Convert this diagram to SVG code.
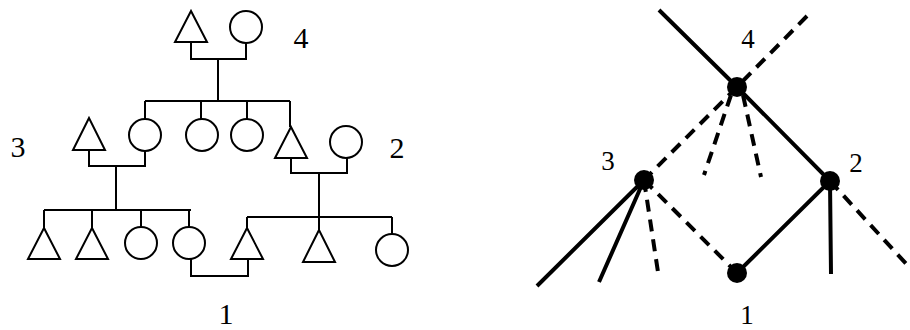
<svg xmlns="http://www.w3.org/2000/svg" width="910" height="330" viewBox="0 0 910 330">
<style>
.p{fill:#fff;stroke:#000;stroke-width:2}
.l{fill:none;stroke:#000;stroke-width:2}
.s{fill:none;stroke:#000;stroke-width:4}
.d{fill:none;stroke:#000;stroke-width:4;stroke-dasharray:12 8}
.n{fill:#000}
text{font-family:'Liberation Serif','Times New Roman',Tinos,serif;fill:#000;text-anchor:middle}
.t{font-size:30px}
.u{font-size:27px}
</style>
<rect width="910" height="330" fill="#fff"/>
<g id="connectors">
<path class="l" d="M191,42V59H246V43M218,59V101M145,101H290M145,101V119M201,101V119M247,101V119M290,101V127"/>
<path class="l" d="M89,150V166H145V151M116,166V210M44,210H191M44,210V228M92,210V228M141,210V227M189,210V227"/>
<path class="l" d="M291,158V173H347V158M319,173V217M247,217H392M247,217V228M319,217V230M392,217V234"/>
<path class="l" d="M191,259V276H248V259"/>
<path class="s" d="M659,10L737,87L830,181L737,273"/>
<path class="s" d="M644,180L537,286M644,180L599,282M830,181L831,274"/>
<path class="d" d="M807,16L737,87L644,180"/>
<path class="d" d="M731,95L704,175M743,95L761,177"/>
<path class="d" d="M644,180L658,272M644,180L737,273"/>
<path class="d" d="M830,181L910,268"/>
</g>
<g id="ped-I-m"><polygon class="p" points="191,11 175,42 207,42"/></g>
<g id="ped-I-f"><circle class="p" cx="246" cy="27" r="16"/></g>
<g id="ped-II-1"><polygon class="p" points="89,118 73,150 105,150"/></g>
<g id="ped-II-2"><circle class="p" cx="145" cy="135" r="16"/></g>
<g id="ped-II-3"><circle class="p" cx="202" cy="135" r="16"/></g>
<g id="ped-II-4"><circle class="p" cx="247" cy="135" r="16"/></g>
<g id="ped-II-5"><polygon class="p" points="291,127 275,158 307,158"/></g>
<g id="ped-II-6"><circle class="p" cx="346" cy="142" r="16"/></g>
<g id="ped-III-1"><polygon class="p" points="44,228 28,259 60,259"/></g>
<g id="ped-III-2"><polygon class="p" points="92,228 76,259 108,259"/></g>
<g id="ped-III-3"><circle class="p" cx="141" cy="243" r="16"/></g>
<g id="ped-III-4"><circle class="p" cx="189" cy="243" r="16"/></g>
<g id="ped-III-5"><polygon class="p" points="247,228 231,259 263,259"/></g>
<g id="ped-III-6"><polygon class="p" points="319,230 303,262 335,262"/></g>
<g id="ped-III-7"><circle class="p" cx="392" cy="250" r="16"/></g>
<g id="ped-labels">
<text class="t" x="301" y="48">4</text>
<text class="t" x="18" y="157">3</text>
<text class="t" x="397" y="158">2</text>
<text class="t" x="226" y="324">1</text>
</g>
<g id="node4"><circle class="n" cx="737" cy="87" r="10"/><text class="u" x="748" y="48">4</text></g>
<g id="node3"><circle class="n" cx="644" cy="180" r="10"/><text class="u" x="608" y="170">3</text></g>
<g id="node2"><circle class="n" cx="830" cy="181" r="10"/><text class="u" x="856" y="172">2</text></g>
<g id="node1"><circle class="n" cx="737" cy="273" r="10"/><text class="u" x="747" y="324">1</text></g>
</svg>
